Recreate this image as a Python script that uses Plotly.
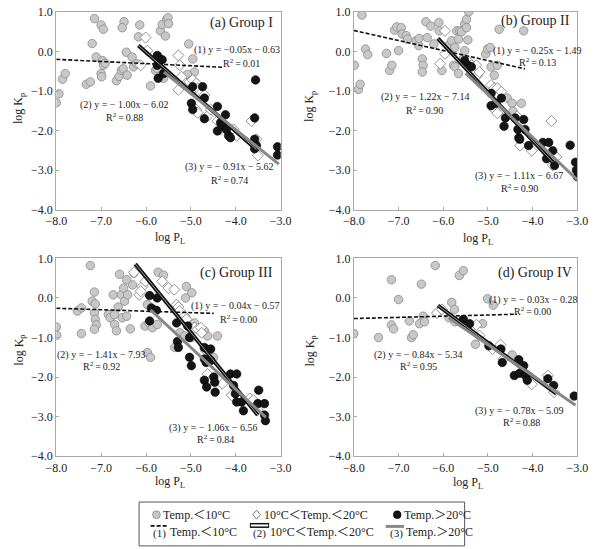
import plotly.graph_objects as go

W, H = 597, 549
FONT = "Liberation Serif"

# ---------------- data ----------------
# Panel (a) Group I
a_low_x = [-8.0,-7.94,-7.86,-7.80,-7.15,-7.2,-7.11,-7.33,-7.24,-7.0,-6.95,-6.97,-6.95,-6.91,-7.0,-6.99,-6.66,-6.60,-6.55,-6.51,-6.49,-6.53,-6.44,-6.42,-6.31,-6.28,-6.21,-6.17,-6.14,-5.90,-5.79,-5.75,-5.72,-5.68,-5.64,-5.54,-5.51,-5.57,-5.50,-5.61,-5.66,-5.05,-4.96,-4.92,-5.08]
a_low_y = [-1.30,-1.07,-0.70,-0.56,0.83,0.20,-0.14,-0.83,-0.77,0.67,0.56,-0.23,-0.35,-0.30,-0.56,-0.64,-0.74,-0.63,-0.48,-0.44,0.75,0.60,-0.02,-0.60,-0.14,-0.39,-0.31,0.37,0.67,-0.87,-0.48,-0.43,-0.14,0.52,0.68,0.81,0.85,0.39,0.70,-0.68,-0.60,0.19,-0.19,-0.52,-0.58]
a_mid_x = [-6.01,-6.12,-5.97,-5.28,-5.25,-5.28,-5.21,-5.03,-4.96,-4.88,-4.85,-4.78,-4.70,-4.88,-4.85,-4.63,-4.56,-4.41,-4.34,-4.12,-4.05,-3.65,-3.54,-3.51,-3.98]
a_mid_y = [0.35,-0.35,0.02,-0.10,-0.35,-0.97,-0.64,-0.77,-0.72,-0.81,-0.93,-1.06,-1.10,-1.47,-1.55,-1.64,-1.47,-1.76,-1.97,-2.09,-1.97,-1.76,-2.22,-2.63,-2.13]
a_high_x = [-5.75,-5.75,-5.73,-5.64,-5.61,-4.99,-4.96,-4.96,-4.74,-4.70,-4.70,-4.41,-4.41,-4.34,-4.30,-4.23,-4.21,-4.16,-4.12,-3.56,-3.58,-3.58,-3.54,-3.07,-3.07,-3.58]
a_high_y = [-0.10,-0.35,-0.68,-0.21,-0.56,-1.31,-0.89,-1.47,-0.89,-1.18,-1.70,-1.39,-2.01,-1.80,-1.89,-1.60,-1.97,-2.13,-2.18,-0.72,-1.68,-2.22,-2.38,-2.41,-2.62,-2.46]

# Panel (b) Group II
b_low_x = [-7.99,-7.9,-7.86,-7.82,-7.74,-7.69,-7.27,-7.20,-7.15,-7.09,-7.04,-7.0,-6.94,-6.92,-6.83,-6.80,-6.61,-6.55,-6.54,-6.47,-6.45,-6.47,-6.39,-6.36,-6.28,-6.21,-6.1,-6.09,-6.03,-5.88,-5.81,-5.77,-5.74,-5.74,-5.70,-5.66,-5.63,-5.66,-5.59,-5.55,-5.52,-5.48,-5.48,-5.43,-5.52,-5.45,-5.05,-5.01,-4.95,-4.86,-4.93,-4.75,-4.79,-4.57,-4.46,-4.44,-4.20,-4.25]
b_low_y = [-0.35,-0.96,-0.83,0.92,0.06,-0.08,-0.05,-0.48,-0.35,0.54,0.62,0.02,0.60,0.44,0.40,0.31,0.27,0.15,0.33,-0.19,-0.35,-0.52,0.75,0.35,0.64,0.19,0.73,0.52,-0.48,0.15,0.27,-0.35,-0.39,0.10,0.52,0.31,0.52,-0.56,0.50,-0.19,0.69,0.81,0.60,1.0,0.02,0.29,-0.06,0.06,0.10,-0.60,-0.39,0.56,-0.35,-1.18,-1.31,-1.51,0.52,-1.31]
b_mid_x = [-5.96,-5.96,-6.07,-5.42,-5.37,-5.26,-5.23,-5.19,-4.93,-4.86,-4.79,-4.70,-4.85,-4.79,-4.35,-4.28,-4.28,-4.02,-3.58,-3.47,-3.55]
b_mid_y = [0.52,-0.06,-0.31,-0.27,-0.35,-0.35,-0.60,-0.52,-0.85,-0.93,-0.93,-1.02,-1.47,-1.56,-1.64,-1.97,-2.38,-2.51,-1.76,-2.67,-2.88]
b_high_x = [-5.52,-5.45,-5.37,-4.93,-4.93,-4.82,-4.70,-4.64,-4.61,-4.39,-4.33,-4.20,-4.17,-4.31,-4.29,-4.09,-3.77,-3.69,-3.64,-3.55,-3.51,-3.16,-3.04,-3.02,-3.0]
b_high_y = [-0.23,-0.35,-0.39,-1.06,-1.37,-1.31,-1.18,-1.89,-1.68,-1.68,-1.97,-1.72,-1.97,-2.18,-2.22,-2.38,-2.30,-2.71,-2.30,-2.51,-2.88,-2.37,-2.80,-3.0,-3.17]

# Panel (c) Group III
c_low_x = [-8.0,-7.99,-7.53,-7.44,-7.44,-7.24,-7.20,-7.15,-7.13,-7.15,-7.13,-7.11,-7.15,-6.84,-6.80,-6.73,-6.70,-6.70,-6.66,-6.62,-6.59,-6.55,-6.50,-6.48,-6.43,-6.41,-6.53,-6.43,-6.35,-6.30,-6.27,-6.02,-5.97,-5.93,-5.97,-5.90,-5.86,-5.75,-5.73,-5.61,-5.10,-5.12,-4.98,-5.36,-5.25,-5.14,-4.92,-4.99,-4.70,-4.63,-4.41,-4.50,-4.70]
c_low_y = [-0.73,-0.94,-0.33,-0.25,-0.90,0.82,-0.08,0.15,-0.15,-0.38,-0.54,-0.68,-0.79,-0.42,-0.50,0.08,-0.42,-0.67,-0.83,-0.23,0.60,0.08,0.25,-0.08,0.46,0.08,-0.50,-0.46,-0.78,0.33,0.63,-0.71,-0.17,-0.63,-1.38,-1.50,-0.75,-0.67,0.65,0.58,0.29,0.0,0.13,-1.25,-0.88,-0.96,-0.63,-1.0,-0.83,-0.96,-0.96,-1.50,-1.29]
c_mid_x = [-6.27,-6.08,-6.01,-6.15,-6.12,-5.64,-5.50,-5.37,-5.32,-5.28,-5.25,-5.14,-5.10,-4.92,-4.85,-4.78,-4.76,-4.63,-4.56,-4.30,-4.09,-3.69,-3.61,-3.51]
c_mid_y = [0.65,0.29,0.42,0.08,0.17,0.42,0.25,0.21,-0.17,-0.23,-0.33,-0.46,-0.54,-0.75,-0.79,-0.75,-0.88,-1.92,-2.08,-2.17,-2.46,-2.54,-2.58,-2.83]
c_high_x = [-5.92,-5.75,-5.88,-5.77,-5.92,-5.32,-5.30,-5.28,-5.07,-5.03,-5.03,-4.99,-4.70,-4.56,-4.70,-4.66,-4.70,-4.65,-4.56,-4.49,-4.47,-4.46,-4.12,-3.98,-4.05,-4.01,-3.98,-3.83,-3.87,-3.49,-3.51,-3.36,-3.36,-3.34]
c_high_y = [0.06,0.0,-0.25,-0.31,-0.58,-0.63,-1.10,-1.25,-0.71,-1.0,-1.50,-1.71,-1.25,-1.29,-1.54,-1.63,-2.08,-2.25,-1.58,-2.0,-2.13,-2.38,-1.92,-1.92,-2.21,-2.42,-2.63,-2.85,-2.63,-2.33,-2.67,-2.67,-2.96,-3.10]

# Panel (d) Group IV
d_low_x = [-8.0,-7.45,-7.16,-7.16,-7.11,-7.0,-6.76,-6.71,-6.67,-6.53,-6.49,-6.45,-6.42,-6.18,-5.87,-5.81,-5.75,-5.74,-5.64,-5.55,-5.28,-5.12,-5.01,-4.88,-4.46]
d_low_y = [-0.90,-1.0,0.46,-0.68,-0.78,-0.04,-0.58,-1.0,-0.93,-0.65,0.35,-0.46,-0.60,0.82,-0.50,-0.11,-0.29,-0.60,0.57,0.69,-1.17,-0.65,-0.02,-0.18,-1.44]
d_mid_x = [-6.14,-6.03,-5.26,-5.19,-4.90,-4.72,-4.65,-4.02,-3.66,-3.52]
d_mid_y = [-0.38,-0.29,-0.68,-0.95,-1.29,-1.18,-1.54,-2.18,-1.96,-2.38]
d_high_x = [-5.55,-5.41,-4.98,-4.71,-4.68,-4.41,-4.31,-4.29,-4.20,-4.16,-4.12,-3.66,-3.53,-3.07]
d_high_y = [-0.54,-0.65,-1.21,-1.29,-1.63,-1.96,-1.56,-1.90,-1.71,-1.96,-2.08,-2.04,-2.21,-2.48]

# regression line end points (x0, x1), (y0, y1)
lines = {
    "a": {"l1": ([-8.0, -4.29], [-0.20, -0.40]), "l2": ([-6.17, -3.54], [0.15, -2.48]), "l3": ([-5.60, -3.04], [-0.52, -2.85])},
    "b": {"l1": ([-8.0, -4.17], [0.53, -0.44]), "l2": ([-6.12, -3.55], [0.33, -2.80]), "l3": ([-5.50, -3.00], [-0.55, -3.25])},
    "c": {"l1": ([-8.0, -4.49], [-0.26, -0.39]), "l2": ([-6.24, -3.51], [0.86, -2.96]), "l3": ([-5.90, -3.33], [-0.30, -3.02])},
    "d": {"l1": ([-8.0, -4.35], [-0.52, -0.41]), "l2": ([-6.12, -3.47], [-0.19, -2.42]), "l3": ([-5.88, -3.04], [-0.50, -2.71])},
}

TS = "\u2009"  # thin space
titles = {"a": "(a) Group I", "b": "(b) Group II", "c": "(c) Group III", "d": "(d) Group IV"}
eqs = {
    "a": ["(1) y = −0.05x − 0.63", "R<sup>2</sup>" + TS + "=" + TS + "0.01", "(2) y = − 1.00x − 6.02", "R<sup>2</sup>" + TS + "=" + TS + "0.88", "(3) y = − 0.91x − 5.62", "R<sup>2</sup>" + TS + "=" + TS + "0.74"],
    "b": ["(1) y = − 0.25x − 1.49", "R<sup>2</sup>" + TS + "=" + TS + "0.13", "(2) y = − 1.22x − 7.14", "R<sup>2</sup>" + TS + "=" + TS + "0.90", "(3) y = − 1.11x − 6.67", "R<sup>2</sup>" + TS + "=" + TS + "0.90"],
    "c": ["(1) y = − 0.04x − 0.57", "R<sup>2</sup>" + TS + "=" + TS + "0.00", "(2) y = − 1.41x − 7.93", "R<sup>2</sup>" + TS + "=" + TS + "0.92", "(3) y = − 1.06x − 6.56", "R<sup>2</sup>" + TS + "=" + TS + "0.84"],
    "d": ["(1) y = − 0.03x − 0.28", "R<sup>2</sup>" + TS + "=" + TS + "0.00", "(2) y = − 0.84x − 5.34", "R<sup>2</sup>" + TS + "=" + TS + "0.95", "(3) y = − 0.78x − 5.09", "R<sup>2</sup>" + TS + "=" + TS + "0.88"],
}
# annotation anchor positions in data units (x, y)
eq_pos = {
    "a": [(-3.97, 0.04), (-3.88, -0.28), (-6.47, -1.36), (-6.48, -1.66), (-4.14, -2.92), (-4.14, -3.24)],
    "b": [(-3.90, 0.02), (-3.90, -0.27), (-6.39, -1.16), (-6.42, -1.49), (-4.30, -3.15), (-4.29, -3.44)],
    "c": [(-4.01, -0.21), (-3.94, -0.53), (-7.00, -1.43), (-6.99, -1.71), (-4.49, -3.29), (-4.46, -3.57)],
    "d": [(-3.99, -0.04), (-4.00, -0.32), (-6.56, -1.44), (-6.56, -1.71), (-4.29, -2.85), (-4.26, -3.13)],
}
title_pos = {"a": (-3.13, 0.73), "b": (-3.11, 0.77), "c": (-3.12, 0.63), "d": (-3.07, 0.63)}

x_ticks = [-8, -7, -6, -5, -4, -3]
x_tick_text = ["−8.0", "−7.0", "−6.0", "−5.0", "−4.0", "−3.0"]
y_ticks = [1, 0, -1, -2, -3, -4]
y_tick_text = ["1.0", "0.0", "−1.0", "−2.0", "−3.0", "−4.0"]

panels = {
    "a": (a_low_x, a_low_y, a_mid_x, a_mid_y, a_high_x, a_high_y),
    "b": (b_low_x, b_low_y, b_mid_x, b_mid_y, b_high_x, b_high_y),
    "c": (c_low_x, c_low_y, c_mid_x, c_mid_y, c_high_x, c_high_y),
    "d": (d_low_x, d_low_y, d_mid_x, d_mid_y, d_high_x, d_high_y),
}

# ---------------- layout helpers ----------------
def px(x):
    return x / W

def py(y):
    return 1 - y / H

# plot area boxes in pixels: left, right, top, bottom
boxes = {"a": (47, 280, 5, 208), "b": (356, 588, 5, 208), "c": (47, 280, 258, 461), "d": (356, 588, 258, 461)}
axis_ids = {"a": ("x", "y"), "b": ("x2", "y2"), "c": ("x3", "y3"), "d": ("x4", "y4")}

fig = go.Figure()
layout = dict(
    width=W, height=H, margin=dict(l=0, r=0, t=0, b=0),
    paper_bgcolor="white", plot_bgcolor="white", showlegend=False,
    font=dict(family=FONT, size=12, color="#222"),
)
annotations = []
shapes = []

for key in ["a", "b", "c", "d"]:
    xa, ya = axis_ids[key]
    lx, ly, mx, my, hx, hy = panels[key]
    L, R, T, B = boxes[key]
    xn = "xaxis" + xa[1:]
    yn = "yaxis" + ya[1:]
    layout[xn] = dict(domain=[px(L), px(R)], range=[-8, -3], anchor=ya,
                      tickvals=x_ticks, ticktext=x_tick_text, ticks="inside", ticklen=3,
                      tickcolor="#aaa", showline=True, linecolor="#aaa", linewidth=1, mirror=True,
                      showgrid=False, zeroline=False, tickfont=dict(family=FONT, size=12, color="#222"))
    layout[yn] = dict(domain=[py(B), py(T)], range=[-4, 1], anchor=xa,
                      tickvals=y_ticks, ticktext=y_tick_text, ticks="inside", ticklen=3,
                      tickcolor="#aaa", showline=True, linecolor="#aaa", linewidth=1, mirror=True,
                      showgrid=False, zeroline=False, tickfont=dict(family=FONT, size=12, color="#222"))

    fig.add_trace(go.Scatter(x=lx, y=ly, mode="markers", xaxis=xa, yaxis=ya,
                             marker=dict(size=8.5, color="#c8c8c8", line=dict(color="#8a8a8a", width=0.8))))
    fig.add_trace(go.Scatter(x=mx, y=my, mode="markers", xaxis=xa, yaxis=ya,
                             marker=dict(size=8.5, symbol="diamond", color="white", line=dict(color="#777", width=0.8))))
    fig.add_trace(go.Scatter(x=hx, y=hy, mode="markers", xaxis=xa, yaxis=ya,
                             marker=dict(size=8.5, color="#151515", line=dict(color="#000", width=0.6))))

    ln = lines[key]
    fig.add_trace(go.Scatter(x=ln["l1"][0], y=ln["l1"][1], mode="lines", xaxis=xa, yaxis=ya,
                             line=dict(color="#111", width=1.6, dash="4px,2px")))
    fig.add_trace(go.Scatter(x=ln["l2"][0], y=ln["l2"][1], mode="lines", xaxis=xa, yaxis=ya,
                             line=dict(color="#111", width=4)))
    fig.add_trace(go.Scatter(x=ln["l2"][0], y=ln["l2"][1], mode="lines", xaxis=xa, yaxis=ya,
                             line=dict(color="#999", width=1)))
    fig.add_trace(go.Scatter(x=ln["l3"][0], y=ln["l3"][1], mode="lines", xaxis=xa, yaxis=ya,
                             line=dict(color="#888", width=3)))

    tx, ty = title_pos[key]
    annotations.append(dict(x=tx, y=ty, xref=xa, yref=ya, text=titles[key], showarrow=False,
                            xanchor="right", yanchor="middle", font=dict(family=FONT, size=14, color="#222")))
    for txt, (ex, ey) in zip(eqs[key], eq_pos[key]):
        annotations.append(dict(x=ex, y=ey, xref=xa, yref=ya, text=txt, showarrow=False,
                                xanchor="center", yanchor="middle", font=dict(family=FONT, size=10, color="#222")))

# axis titles
for (xc, yc) in [(165, 237), (485, 238), (165, 487), (474, 488)]:
    annotations.append(dict(x=px(xc), y=py(yc), xref="paper", yref="paper", text="log P<sub>L</sub>",
                            showarrow=False, xanchor="center", yanchor="middle", font=dict(family=FONT, size=12)))
for (xc, yc) in [(9, 104), (311, 102), (9, 352), (311, 353)]:
    annotations.append(dict(x=px(xc), y=py(yc), xref="paper", yref="paper", text="log K<sub>p</sub>",
                            textangle=-90, showarrow=False, xanchor="center", yanchor="middle", font=dict(family=FONT, size=12)))

# ---------------- legend box ----------------
shapes.append(dict(type="rect", xref="paper", yref="paper", x0=px(133), x1=px(471), y0=py(553), y1=py(508),
                   line=dict(color="#555", width=1), fillcolor="rgba(0,0,0,0)"))
r = 4
shapes.append(dict(type="circle", xref="paper", yref="paper", x0=px(151 - r), x1=px(151 + r), y0=py(521 + r), y1=py(521 - r),
                   fillcolor="#c8c8c8", line=dict(color="#8a8a8a", width=0.8)))
dx, dy = 255, 521
shapes.append(dict(type="path", xref="paper", yref="paper",
                   path=f"M {px(dx)} {py(dy - 4.5)} L {px(dx + 4)} {py(dy)} L {px(dx)} {py(dy + 4.5)} L {px(dx - 4)} {py(dy)} Z",
                   fillcolor="white", line=dict(color="#666", width=0.9)))
shapes.append(dict(type="circle", xref="paper", yref="paper", x0=px(401 - r), x1=px(401 + r), y0=py(521 + r), y1=py(521 - r),
                   fillcolor="#151515", line=dict(color="#000", width=0.6)))
shapes.append(dict(type="line", xref="paper", yref="paper", x0=px(145), x1=px(162), y0=py(532.5), y1=py(532.5),
                   line=dict(color="#111", width=1.6, dash="4px,2px")))
shapes.append(dict(type="line", xref="paper", yref="paper", x0=px(248), x1=px(268), y0=py(532), y1=py(532),
                   line=dict(color="#111", width=5)))
shapes.append(dict(type="line", xref="paper", yref="paper", x0=px(249), x1=px(267), y0=py(532), y1=py(532),
                   line=dict(color="white", width=2)))
shapes.append(dict(type="line", xref="paper", yref="paper", x0=px(389), x1=px(408), y0=py(533), y1=py(533),
                   line=dict(color="#888", width=3)))

LEGF = "Liberation Serif, Noto Sans CJK SC"
leg_texts = [
    (156, 521, "Temp.＜10°C"), (261, 521, "10°C＜Temp.＜20°C"), (406, 521, "Temp.＞20°C"),
    (163, 539, "Temp.＜10°C"), (267, 539, "10°C＜Temp.＜20°C"), (408, 539, "Temp.＞20°C"),
]
for xl, yl, t in leg_texts:
    annotations.append(dict(x=px(xl), y=py(yl), xref="paper", yref="paper", text=t, showarrow=False,
                            xanchor="left", yanchor="middle", font=dict(family=LEGF, size=12, color="#222")))
for xc, t in [(154.5, "(1)"), (258.5, "(2)"), (400, "(3)")]:
    annotations.append(dict(x=px(xc), y=py(540), xref="paper", yref="paper", text=t, showarrow=False,
                            xanchor="center", yanchor="middle", font=dict(family=FONT, size=11, color="#222")))

layout["annotations"] = annotations
layout["shapes"] = shapes
fig.update_layout(**layout)
fig.write_html("out.html")
